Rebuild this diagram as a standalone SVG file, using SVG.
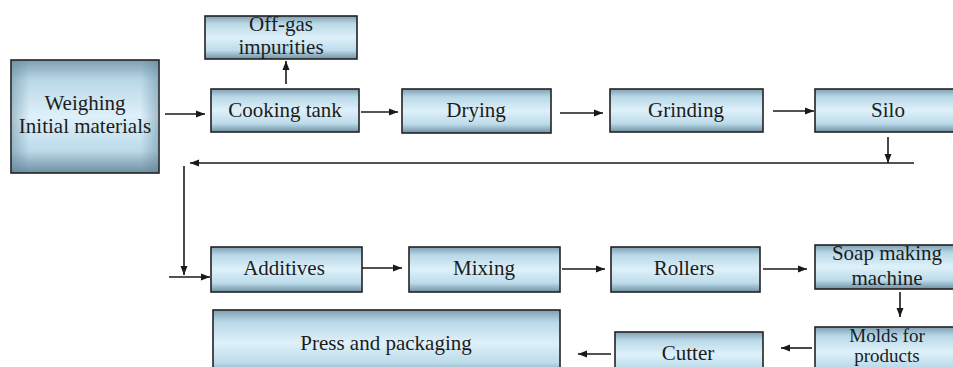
<svg xmlns="http://www.w3.org/2000/svg" width="953" height="367" viewBox="0 0 953 367">
<style>
.box{fill:url(#g);stroke:#222;stroke-width:1.6}
.side{fill:url(#gs);stroke:none}
text{font-family:'Liberation Serif','DejaVu Serif',serif;font-size:21px;fill:#1c1c1c;text-anchor:middle}
.sm{font-size:19px}
.c{fill:none;stroke:#1a1a1a;stroke-width:1.6}
</style>
<defs>
<linearGradient id="g" x1="0" y1="0" x2="0" y2="1">
<stop offset="0" stop-color="#7e9fb2"/>
<stop offset="0.18" stop-color="#b9d8e7"/>
<stop offset="0.5" stop-color="#def1fa"/>
<stop offset="0.8" stop-color="#bcdbea"/>
<stop offset="1" stop-color="#6f90a3"/>
</linearGradient>
<linearGradient id="gs" x1="0" y1="0" x2="1" y2="0">
<stop offset="0" stop-color="#5f8296" stop-opacity="0.45"/>
<stop offset="0.12" stop-color="#5f8296" stop-opacity="0"/>
<stop offset="0.88" stop-color="#5f8296" stop-opacity="0"/>
<stop offset="1" stop-color="#5f8296" stop-opacity="0.45"/>
</linearGradient>
<marker id="a" markerUnits="userSpaceOnUse" markerWidth="10" markerHeight="8" refX="9" refY="4" orient="auto">
<path d="M0,0.5 L9,4 L0,7.5 z" fill="#1a1a1a"/>
</marker>
</defs>
<rect width="953" height="367" fill="#fff"/>
<g font-family="Liberation Serif, serif">
<g id="weighing"><rect class="box" x="11" y="60" width="148" height="113"/><rect class="side" x="12" y="61" width="146" height="111"/><text x="85" y="110">Weighing</text><text x="85" y="133">Initial materials</text></g>
<g id="offgas"><rect class="box" x="205" y="16" width="152" height="43"/><text x="281" y="31">Off-gas</text><text x="281" y="54">impurities</text></g>
<g id="cooking"><rect class="box" x="211" y="89" width="148" height="43"/><text x="285" y="117">Cooking tank</text></g>
<g id="drying"><rect class="box" x="402" y="89" width="149" height="44"/><text x="476" y="117">Drying</text></g>
<g id="grinding"><rect class="box" x="610" y="89" width="153" height="43"/><text x="686" y="117">Grinding</text></g>
<g id="silo"><rect class="box" x="815" y="89" width="146" height="43"/><text x="888" y="117">Silo</text></g>
<g id="additives"><rect class="box" x="211" y="247" width="151" height="45"/><text x="284" y="275">Additives</text></g>
<g id="mixing"><rect class="box" x="409" y="247" width="151" height="45"/><text x="484" y="275">Mixing</text></g>
<g id="rollers"><rect class="box" x="611" y="247" width="149" height="45"/><text x="684" y="275">Rollers</text></g>
<g id="soap"><rect class="box" x="815" y="245" width="146" height="44"/><text x="887" y="260">Soap making</text><text x="887" y="285">machine</text></g>
<g id="molds"><rect class="box" x="815" y="327" width="146" height="50"/><text class="sm" x="887" y="342">Molds for</text><text class="sm" x="887" y="362">products</text></g>
<g id="cutter"><rect class="box" x="615" y="332" width="148" height="45"/><text x="688" y="360">Cutter</text></g>
<g id="press"><rect class="box" x="213" y="310" width="347" height="66"/><text x="386" y="350">Press and packaging</text></g>
</g>
<g id="connectors">
<line class="c" x1="165" y1="114" x2="205" y2="114" marker-end="url(#a)"/>
<line class="c" x1="286" y1="84" x2="286" y2="61" marker-end="url(#a)"/>
<line class="c" x1="361" y1="112" x2="398" y2="112" marker-end="url(#a)"/>
<line class="c" x1="560" y1="113" x2="603" y2="113" marker-end="url(#a)"/>
<line class="c" x1="773" y1="111" x2="814" y2="111" marker-end="url(#a)"/>
<line class="c" x1="888" y1="137" x2="888" y2="163" marker-end="url(#a)"/>
<line class="c" x1="914" y1="163" x2="190" y2="163" marker-end="url(#a)"/>
<line class="c" x1="184" y1="166" x2="184" y2="275" marker-end="url(#a)"/>
<line class="c" x1="169" y1="277" x2="210" y2="277" marker-end="url(#a)"/>
<line class="c" x1="362" y1="268" x2="402" y2="268" marker-end="url(#a)"/>
<line class="c" x1="562" y1="269" x2="605" y2="269" marker-end="url(#a)"/>
<line class="c" x1="763" y1="269" x2="807" y2="269" marker-end="url(#a)"/>
<line class="c" x1="900" y1="292" x2="900" y2="317" marker-end="url(#a)"/>
<line class="c" x1="812" y1="348" x2="781" y2="348" marker-end="url(#a)"/>
<line class="c" x1="611" y1="354" x2="578" y2="354" marker-end="url(#a)"/>
</g>
</svg>
